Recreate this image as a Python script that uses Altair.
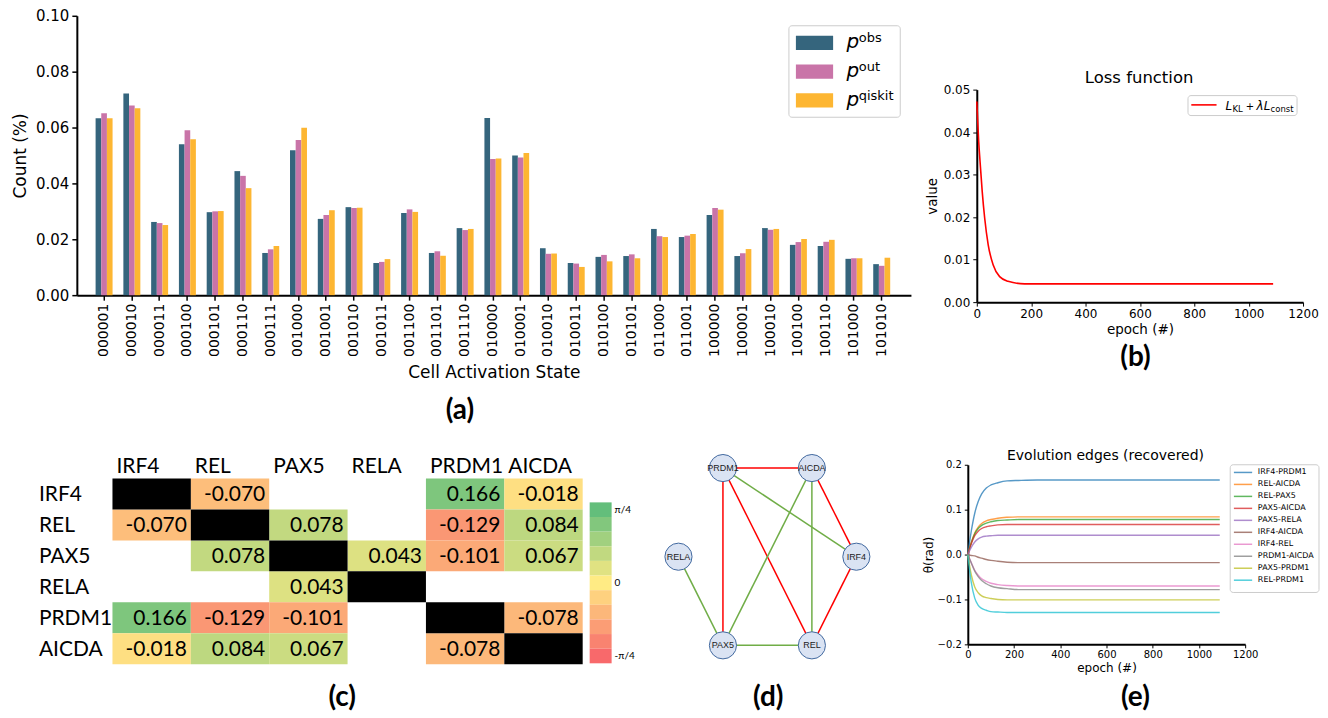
import altair as alt
import pandas as pd

W, H = 1314, 702

# ---------------- (a) data ----------------
states = ["000001", "000010", "000011", "000100", "000101", "000110", "000111",
          "001000", "001001", "001010", "001011", "001100", "001101", "001110",
          "010000", "010001", "010010", "010011", "010100", "010101", "011000",
          "011001", "100000", "100001", "100010", "100100", "100110", "101000", "101010"]
p_obs = [0.0633, 0.0722, 0.0262, 0.0540, 0.0297, 0.0444, 0.0151, 0.0519, 0.0273, 0.0315,
         0.0115, 0.0294, 0.0151, 0.0240, 0.0634, 0.0500, 0.0168, 0.0115, 0.0137, 0.0140,
         0.0237, 0.0208, 0.0287, 0.0140, 0.0240, 0.0180, 0.0176, 0.0130, 0.0111]
p_out = [0.0651, 0.0679, 0.0258, 0.0590, 0.0300, 0.0427, 0.0164, 0.0555, 0.0287, 0.0312,
         0.0119, 0.0307, 0.0157, 0.0233, 0.0487, 0.0493, 0.0148, 0.0113, 0.0144, 0.0146,
         0.0211, 0.0213, 0.0312, 0.0150, 0.0234, 0.0190, 0.0191, 0.0132, 0.0105]
p_qiskit = [0.0633, 0.0669, 0.0251, 0.0558, 0.0301, 0.0383, 0.0176, 0.0599, 0.0304, 0.0313,
            0.0129, 0.0298, 0.0141, 0.0237, 0.0489, 0.0509, 0.0149, 0.0101, 0.0121, 0.0132,
            0.0208, 0.0219, 0.0306, 0.0165, 0.0237, 0.0201, 0.0198, 0.0132, 0.0134]
series_a = ["obs", "out", "qiskit"]
colors_a = ["#35657d", "#c974a8", "#fdb632"]

# ---------------- (b) data ----------------
loss_epoch = [0, 7, 12, 20, 29, 42, 60, 84, 115, 176, 300, 600, 900, 1090]
loss_value = [0.0472, 0.0378, 0.0331, 0.0260, 0.0198, 0.0135, 0.0088, 0.0060, 0.0049,
              0.0043, 0.0043, 0.0043, 0.0043, 0.0043]

# ---------------- (c)/(d) data ----------------
genes = ["IRF4", "REL", "PAX5", "RELA", "PRDM1", "AICDA"]
edge_a = ["IRF4", "IRF4", "IRF4", "REL", "REL", "REL", "PAX5", "PAX5", "PAX5", "PRDM1"]
edge_b = ["REL", "PRDM1", "AICDA", "PAX5", "PRDM1", "AICDA", "RELA", "PRDM1", "AICDA", "AICDA"]
edge_val = [-0.070, 0.166, -0.018, 0.078, -0.129, 0.084, 0.043, -0.101, 0.067, -0.078]
excel_colors = ["#F8696B", "#FFEB84", "#63BE7B"]
cb_bins = [5, 4, 3, 2, 1, 0, -1, -2, -3, -4, -5]
cb_tick_bins = [5, 0, -5]
cb_tick_text = ["π/4", "0", "-π/4"]

node_names = ["PRDM1", "AICDA", "RELA", "IRF4", "PAX5", "REL"]
node_x = [0.5, 1.5, 0.0, 2.0, 0.5, 1.5]
node_y = [0, 0, 1, 1, 2, 2]

# ---------------- (e) data ----------------
evo_names = ["IRF4-PRDM1", "REL-AICDA", "REL-PAX5", "PAX5-AICDA", "PAX5-RELA",
             "IRF4-AICDA", "IRF4-REL", "PRDM1-AICDA", "PAX5-PRDM1", "REL-PRDM1"]
evo_epoch = [0, 15, 30, 45, 60, 80, 100, 130, 170, 220, 300, 1090]
evo_irf4_prdm1 = [0, 0.052, 0.092, 0.118, 0.135, 0.148, 0.155, 0.160, 0.164, 0.165, 0.166, 0.166]
evo_rel_aicda = [0, 0.027, 0.048, 0.061, 0.069, 0.075, 0.078, 0.081, 0.083, 0.084, 0.084, 0.084]
evo_rel_pax5 = [0, 0.026, 0.046, 0.058, 0.065, 0.070, 0.073, 0.076, 0.077, 0.078, 0.078, 0.078]
evo_pax5_aicda = [0, 0.024, 0.042, 0.052, 0.058, 0.062, 0.064, 0.066, 0.067, 0.067, 0.067, 0.067]
evo_pax5_rela = [0, 0.016, 0.028, 0.035, 0.039, 0.041, 0.042, 0.043, 0.043, 0.043, 0.043, 0.043]
evo_irf4_aicda = [0, -0.002, -0.003, -0.006, -0.008, -0.011, -0.013, -0.015, -0.017, -0.018, -0.018, -0.018]
evo_irf4_rel = [0, -0.018, -0.035, -0.046, -0.054, -0.060, -0.064, -0.067, -0.069, -0.070, -0.070, -0.070]
evo_prdm1_aicda = [0, -0.019, -0.037, -0.049, -0.058, -0.065, -0.070, -0.074, -0.076, -0.078, -0.078, -0.078]
evo_pax5_prdm1 = [0, -0.045, -0.072, -0.085, -0.092, -0.096, -0.098, -0.100, -0.101, -0.101, -0.101, -0.101]
evo_rel_prdm1 = [0, -0.062, -0.097, -0.113, -0.120, -0.124, -0.127, -0.128, -0.129, -0.129, -0.129, -0.129]
evo_series = [evo_irf4_prdm1, evo_rel_aicda, evo_rel_pax5, evo_pax5_aicda, evo_pax5_rela,
              evo_irf4_aicda, evo_irf4_rel, evo_prdm1_aicda, evo_pax5_prdm1, evo_rel_prdm1]
evo_colors = ["#1f77b4", "#ff7f0e", "#2ca02c", "#d62728", "#9467bd",
              "#8c564b", "#e377c2", "#7f7f7f", "#bcbd22", "#17becf"]

one = pd.DataFrame({"k": [0]})
layers = []


def T(text, x, y, size, weight="normal", style="normal", font="DejaVu Sans",
      align="center", baseline="middle", color="black"):
    return alt.Chart(one).mark_text(text=text, fontSize=size, fontWeight=weight, fontStyle=style,
                                    font=font, align=align, baseline=baseline, color=color
                                    ).encode(x=alt.value(x), y=alt.value(y))


def box(x1, x2, y1, y2):
    return alt.Chart(one).mark_rect(fill="white", stroke="#cccccc", strokeWidth=1, cornerRadius=3
                                    ).encode(x=alt.value(x1), x2=alt.value(x2),
                                             y=alt.value(y1), y2=alt.value(y2))


# ================= (a) =================
df_a = pd.DataFrame({
    "state": states * 3,
    "series": [s for s in series_a for _ in states],
    "value": p_obs + p_out + p_qiskit,
})
color_a = alt.Color("series:N", scale=alt.Scale(domain=series_a, range=colors_a), legend=None)
bars = alt.Chart(df_a).mark_bar().encode(
    x=alt.X("state:N", sort=states,
            scale=alt.Scale(range=[69, 905], paddingInner=0.389, paddingOuter=0.711, align=0.475),
            axis=alt.Axis(orient="bottom", offset=286 - H, title="Cell Activation State",
                          labelAngle=270, labelAlign="right", labelBaseline="middle",
                          labelFontSize=14, tickSize=5, tickWidth=1.5, labelPadding=3,
                          titleFontSize=17, titlePadding=8, domainWidth=2)),
    xOffset=alt.XOffset("series:N", sort=series_a, scale=alt.Scale(paddingInner=0, paddingOuter=0)),
    y=alt.Y("value:Q", scale=alt.Scale(domain=[0, 0.1], range=[286, 6], nice=False),
            axis=alt.Axis(orient="left", offset=-69, values=[0, 0.02, 0.04, 0.06, 0.08, 0.1],
                          format=".2f", title="Count (%)", labelFontSize=15, tickSize=5,
                          tickWidth=1.5, labelPadding=3, titleFontSize=17, titlePadding=6,
                          domainWidth=2)),
    color=color_a,
)
layers.append(bars)

leg_a = pd.DataFrame({"series": series_a, "sup": series_a})
y_leg_a = alt.Y("series:N", sort=series_a,
                scale=alt.Scale(domain=series_a, range=[18.8, 105.2], paddingInner=0.5, paddingOuter=0.25),
                axis=None)
layers.append(box(782.7, 894.3, 16, 107.7))
layers.append(alt.Chart(leg_a).mark_rect().encode(x=alt.value(789.7), x2=alt.value(827), y=y_leg_a, color=color_a))
layers.append(alt.Chart(leg_a).mark_text(text="p", fontSize=20, fontStyle="italic", align="left",
                                         baseline="alphabetic", dy=5.5, font="DejaVu Sans", color="black"
                                         ).encode(x=alt.value(840.3), y=y_leg_a))
layers.append(alt.Chart(leg_a).mark_text(fontSize=13, align="left", baseline="alphabetic", dy=-0.5,
                                         font="DejaVu Sans", color="black"
                                         ).encode(x=alt.value(852.7), y=y_leg_a, text="sup:N"))
layers.append(T("(a)", 453, 402, 28, weight="bold", font="Lato"))

# ================= (b) =================
df_b = pd.DataFrame({"epoch": loss_epoch, "value": loss_value})
line_b = alt.Chart(df_b).mark_line(color="#ff0000", strokeWidth=1.6, interpolate="monotone").encode(
    x=alt.X("epoch:Q", scale=alt.Scale(domain=[0, 1200], range=[971, 1298], nice=False),
            axis=alt.Axis(orient="bottom", offset=293 - H, values=list(range(0, 1201, 200)),
                          format="d", title="epoch (#)", labelFontSize=12, titleFontSize=13.5,
                          tickSize=4, labelPadding=2, titlePadding=3, domainWidth=2)),
    y=alt.Y("value:Q", scale=alt.Scale(domain=[0, 0.05], range=[293, 80], nice=False),
            axis=alt.Axis(orient="left", offset=-971, values=[0, 0.01, 0.02, 0.03, 0.04, 0.05],
                          format=".2f", title="value", labelFontSize=12, titleFontSize=13.5,
                          tickSize=4, labelPadding=3, titlePadding=4, domainWidth=2)),
)
layers.append(line_b)
layers.append(T("Loss function", 1133.7, 68.7, 16.5))
layers.append(box(1182.7, 1292, 86, 106))
layers.append(alt.Chart(one).mark_rule(color="#ff0000", strokeWidth=1.6).encode(
    x=alt.value(1186), x2=alt.value(1211.3), y=alt.value(95.3)))
layers.append(T("L", 1220.3, 100.3, 12, style="italic", align="left", baseline="alphabetic"))
layers.append(T("KL", 1227.3, 102.5, 8.5, align="left", baseline="alphabetic"))
layers.append(T("+", 1240.5, 100.3, 10, align="left", baseline="alphabetic"))
layers.append(T("λ", 1251.3, 100.3, 12, style="italic", align="left", baseline="alphabetic"))
layers.append(T("L", 1258.5, 100.3, 12, style="italic", align="left", baseline="alphabetic"))
layers.append(T("const", 1265.5, 102.5, 8.5, align="left", baseline="alphabetic"))
layers.append(T("(b)", 1130, 349, 28, weight="bold", font="Lato"))

# ================= (c) =================
rows, cols, vals = [], [], []
for a, b, v in zip(edge_a, edge_b, edge_val):
    rows += [a, b]
    cols += [b, a]
    vals += [v, v]
df_c = pd.DataFrame({"row": rows, "col": cols, "value": vals})
df_c["label"] = df_c["value"].map(lambda v: f"{v:.3f}")
df_diag = pd.DataFrame({"row": genes, "col": genes})
df_genes = pd.DataFrame({"gene": genes})

c_x0, c_x1 = 104.7, 576
half_band = (c_x1 - c_x0) / len(genes) / 2
xsc = alt.Scale(domain=genes, range=[c_x0, c_x1], paddingInner=0, paddingOuter=0)
ysc = alt.Scale(domain=genes, range=[469.7, 656], paddingInner=0, paddingOuter=0)
layers.append(alt.Chart(df_c).mark_rect().encode(
    x=alt.X("col:N", scale=xsc, axis=None), y=alt.Y("row:N", scale=ysc, axis=None),
    color=alt.Color("value:Q", scale=alt.Scale(domain=[-0.2, 0, 0.2], range=excel_colors,
                                               interpolate="rgb"), legend=None)))
layers.append(alt.Chart(df_diag).mark_rect(color="black").encode(
    x=alt.X("col:N", scale=xsc, axis=None), y=alt.Y("row:N", scale=ysc, axis=None)))
layers.append(alt.Chart(df_c).mark_text(align="right", baseline="middle", dx=half_band - 4, dy=1,
                                        font="Lato", fontSize=21, color="black").encode(
    x=alt.X("col:N", scale=xsc, axis=None),
    y=alt.Y("row:N", scale=ysc, axis=None), text="label:N"))
layers.append(alt.Chart(df_genes).mark_text(align="left", baseline="alphabetic", dx=-half_band + 4,
                                            font="Lato", fontSize=21, color="black").encode(
    x=alt.X("gene:N", scale=xsc, axis=None), y=alt.value(464), text="gene:N"))
layers.append(alt.Chart(df_genes).mark_text(align="left", baseline="middle", dy=1, font="Lato",
                                            fontSize=21, color="black").encode(
    x=alt.value(31), y=alt.Y("gene:N", scale=ysc, axis=None), text="gene:N"))

df_cb = pd.DataFrame({"bin": cb_bins})
cb_y = alt.Y("bin:O", scale=alt.Scale(domain=cb_bins, range=[493.7, 655], paddingInner=0, paddingOuter=0),
             axis=None)
layers.append(alt.Chart(df_cb).mark_rect().encode(
    x=alt.value(583), x2=alt.value(605), y=cb_y,
    color=alt.Color("bin:Q", scale=alt.Scale(domain=[-5, 0, 5], range=excel_colors, interpolate="rgb"),
                    legend=None)))
df_cbt = pd.DataFrame({"bin": cb_tick_bins, "lab": cb_tick_text})
layers.append(alt.Chart(df_cbt).mark_text(align="left", baseline="middle", font="Lato", fontSize=10,
                                          color="black").encode(x=alt.value(608), y=cb_y, text="lab:N"))
layers.append(T("(c)", 335, 690, 28, weight="bold", font="Lato"))

# ================= (d) =================
pos = {n: (x, y) for n, x, y in zip(node_names, node_x, node_y)}
df_e_d = pd.DataFrame({
    "x1": [pos[a][0] for a in edge_a], "y1": [pos[a][1] for a in edge_a],
    "x2": [pos[b][0] for b in edge_b], "y2": [pos[b][1] for b in edge_b],
    "sign": ["pos" if v > 0 else "neg" for v in edge_val],
})
xs_d = alt.Scale(domain=[0, 2], range=[672, 850.3], nice=False, zero=False)
ys_d = alt.Scale(domain=[0, 2], range=[459.3, 637], nice=False, zero=False)
layers.append(alt.Chart(df_e_d).mark_rule(strokeWidth=1.5).encode(
    x=alt.X("x1:Q", scale=xs_d, axis=None), y=alt.Y("y1:Q", scale=ys_d, axis=None),
    x2="x2:Q", y2="y2:Q",
    color=alt.Color("sign:N", scale=alt.Scale(domain=["neg", "pos"], range=["#ff0000", "#70ad47"]),
                    legend=None)))
df_nodes = pd.DataFrame({"name": node_names, "x": node_x, "y": node_y})
layers.append(alt.Chart(df_nodes).mark_circle(size=740, fill="#dae3f3", fillOpacity=1, stroke="#41689f",
                                              strokeWidth=1, opacity=1).encode(
    x=alt.X("x:Q", scale=xs_d, axis=None), y=alt.Y("y:Q", scale=ys_d, axis=None)))
layers.append(alt.Chart(df_nodes).mark_text(font="Liberation Sans", fontSize=9, color="#222222").encode(
    x=alt.X("x:Q", scale=xs_d, axis=None), y=alt.Y("y:Q", scale=ys_d, axis=None), text="name:N"))
layers.append(T("(d)", 762, 690, 28, weight="bold", font="Lato"))

# ================= (e) =================
recs = []
for name, ser in zip(evo_names, evo_series):
    for ep, v in zip(evo_epoch, ser):
        recs.append({"name": name, "epoch": ep, "value": v})
df_ev = pd.DataFrame(recs)
color_e = alt.Color("name:N", scale=alt.Scale(domain=evo_names, range=evo_colors), legend=None)
layers.append(alt.Chart(df_ev).mark_line(strokeWidth=1.4, opacity=0.75, interpolate="monotone").encode(
    x=alt.X("epoch:Q", scale=alt.Scale(domain=[0, 1200], range=[962, 1240], nice=False),
            axis=alt.Axis(orient="bottom", offset=636 - H, values=list(range(0, 1201, 200)),
                          format="d", title="epoch (#)", labelFontSize=10, titleFontSize=12,
                          tickSize=3.5, labelPadding=1.5, titlePadding=3, domainWidth=2)),
    y=alt.Y("value:Q", scale=alt.Scale(domain=[-0.2, 0.2], range=[636, 456], nice=False),
            axis=alt.Axis(orient="left", offset=-962, values=[-0.2, -0.1, 0, 0.1, 0.2], format=".1f",
                          title="θ(rad)", labelFontSize=10, titleFontSize=12, tickSize=3.5,
                          labelPadding=3, titlePadding=2, domainWidth=2)),
    color=color_e))
layers.append(T("Evolution edges (recovered)", 1100, 447, 14))
df_leg_e = pd.DataFrame({"name": evo_names})
y_leg_e = alt.Y("name:N", scale=alt.Scale(domain=evo_names, range=[457.7, 577.7], paddingInner=0,
                                          paddingOuter=0), axis=None)
layers.append(box(1225, 1314, 456, 584))
layers.append(alt.Chart(df_leg_e).mark_rule(strokeWidth=1.5, opacity=0.75).encode(
    x=alt.value(1228.7), x2=alt.value(1247), y=y_leg_e, color=color_e))
layers.append(alt.Chart(df_leg_e).mark_text(align="left", baseline="middle", fontSize=8,
                                            font="DejaVu Sans", color="black").encode(
    x=alt.value(1252.7), y=y_leg_e, text="name:N"))
layers.append(T("(e)", 1130, 690, 28, weight="bold", font="Lato"))

chart = alt.layer(*layers).resolve_scale(
    x="independent", y="independent", color="independent"
).properties(
    width=W, height=H, padding=0, background="white"
).configure_view(stroke=None).configure_axis(
    grid=False, domainColor="black", tickColor="black", labelColor="black", titleColor="black",
    labelFont="DejaVu Sans", titleFont="DejaVu Sans", titleFontWeight="normal",
    labelFlush=False, labelOverlap=False
)

chart.save("out.html", embed_options={"renderer": "svg", "actions": False})
